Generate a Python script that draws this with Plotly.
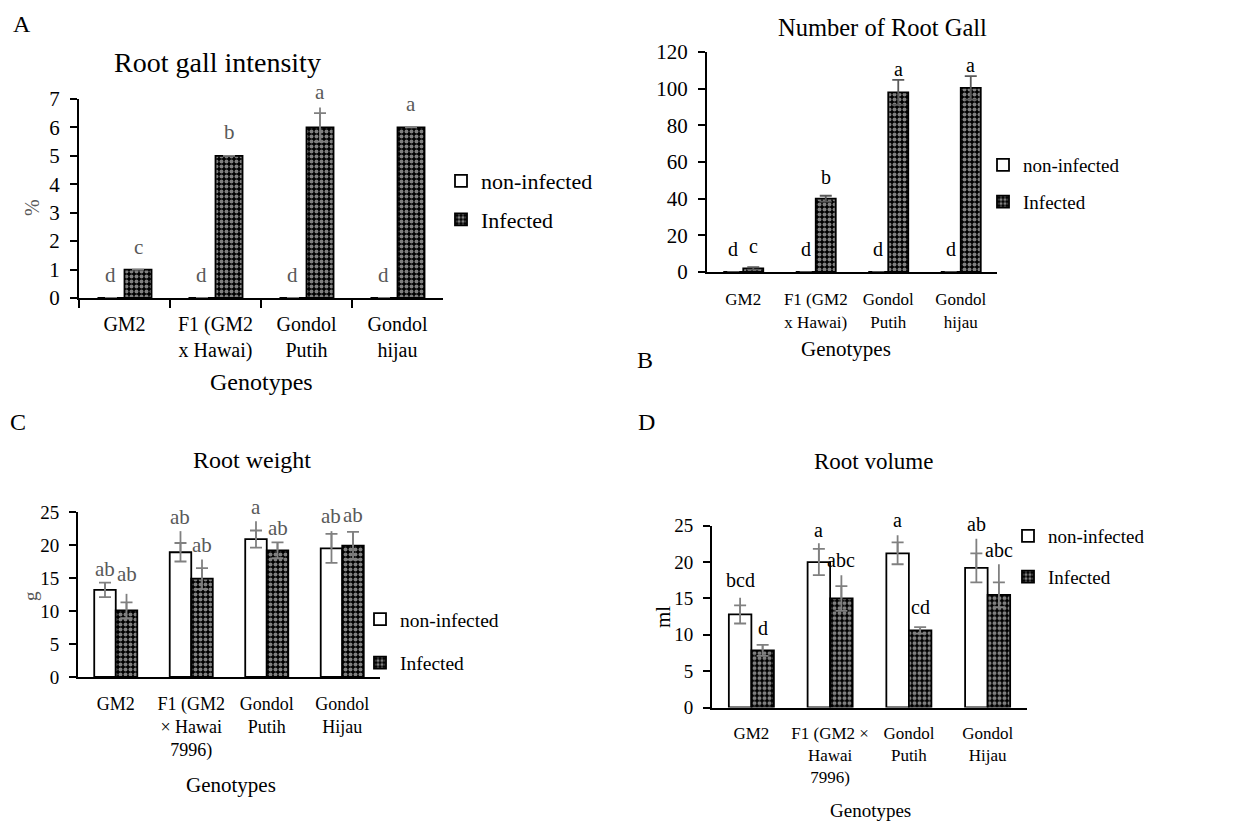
import plotly.graph_objects as go

W, H = 1255, 822
FONT = "Liberation Serif"
GRAY_TXT = "#595959"
ERR_GRAY = "#808080"

# ---------------- data ----------------
cats_ab = ["GM2", "F1 (GM2<br>x Hawai)", "Gondol<br>Putih", "Gondol<br>hijau"]
cats_c = ["GM2", "F1 (GM2<br>× Hawai<br>7996)", "Gondol<br>Putih", "Gondol<br>Hijau"]
cats_d = ["GM2", "F1 (GM2 ×<br>Hawai<br>7996)", "Gondol<br>Putih", "Gondol<br>Hijau"]

# A: Root gall intensity (%)
a_non = [0, 0, 0, 0]
a_non_err = [0, 0, 0, 0]
a_inf = [1, 5, 6, 6]
a_inf_err = [0, 0, 0.5, 0]
a_inf_ext = [0, 0, 0.7, 0]
a_non_lbl = ["d", "d", "d", "d"]
a_inf_lbl = ["c", "b", "a", "a"]

# B: Number of root gall
b_non = [0, 0, 0, 0]
b_non_err = [0, 0, 0, 0]
b_inf = [2, 40, 98, 100.4]
b_inf_err = [0.7, 1.6, 6.8, 6.4]
b_non_lbl = ["d", "d", "d", "d"]
b_inf_lbl = ["c", "b", "a", "a"]

# C: Root weight (g)
c_non = [13.2, 18.9, 20.9, 19.5]
c_non_err = [1.1, 1.4, 1.3, 2.2]
c_non_ext = [1.1, 3.2, 2.7, 2.6]
c_inf = [10.1, 14.9, 19.2, 19.9]
c_inf_err = [1.2, 1.6, 1.2, 2.1]
c_inf_ext = [2.5, 2.9, 1.2, 2.2]
c_non_lbl = ["ab", "ab", "a", "ab"]
c_inf_lbl = ["ab", "ab", "ab", "ab"]

# D: Root volume (ml)
d_non = [12.8, 20.0, 21.2, 19.2]
d_non_err = [1.25, 1.8, 1.5, 2.0]
d_non_ext = [2.3, 2.6, 2.5, 4.0]
d_inf = [7.85, 15.0, 10.6, 15.5]
d_inf_err = [0.75, 1.7, 0.45, 1.7]
d_inf_ext = [0.75, 3.2, 0.45, 4.2]
d_non_lbl = ["bcd", "a", "a", "ab"]
d_inf_lbl = ["d", "abc", "cd", "abc"]


def px_x(p):
    return p / W


def px_y(p):
    return 1 - p / H


fig = go.Figure()
annotations = []

panels = [
    dict(key="", cats=cats_ab, non=a_non, non_err=a_non_err, non_ext=None,
         inf=a_inf, inf_err=a_inf_err, inf_ext=a_inf_ext,
         non_lbl=a_non_lbl, inf_lbl=a_inf_lbl,
         non_shift=[23, 23, 23, 23], inf_shift=[23, 24, 16, 23],
         lbl_color=GRAY_TXT, lbl_size=21, err_color=ERR_GRAY,
         w=0.297, xd=(79, 443), yd=(298, 99), rng=[0, 7], dtick=1,
         tick_size=21, cat_size=20, xticks=True, xstand=7, legend="legend"),
    dict(key="2", cats=cats_ab, non=b_non, non_err=b_non_err, non_ext=None,
         inf=b_inf, inf_err=b_inf_err, inf_ext=None,
         non_lbl=b_non_lbl, inf_lbl=b_inf_lbl,
         non_shift=[23, 23, 23, 23], inf_shift=[21, 19, 11, 11],
         lbl_color="black", lbl_size=20, err_color="#595959",
         w=0.276, xd=(707, 997), yd=(272, 52), rng=[0, 120], dtick=20,
         tick_size=21, cat_size=17, xticks=False, xstand=11, legend="legend2"),
    dict(key="3", cats=cats_c, non=c_non, non_err=c_non_err, non_ext=c_non_ext,
         inf=c_inf, inf_err=c_inf_err, inf_ext=c_inf_ext,
         non_lbl=c_non_lbl, inf_lbl=c_inf_lbl,
         non_shift=[14, 14, 14, 15], inf_shift=[20, 14.5, 14.5, 16.5],
         lbl_color=GRAY_TXT, lbl_size=21, err_color=ERR_GRAY,
         w=0.285, xd=(78, 380), yd=(677, 512), rng=[0, 25], dtick=5,
         tick_size=19, cat_size=18, xticks=False, xstand=9, legend="legend3"),
    dict(key="4", cats=cats_d, non=d_non, non_err=d_non_err, non_ext=d_non_ext,
         inf=d_inf, inf_err=d_inf_err, inf_ext=d_inf_ext,
         non_lbl=d_non_lbl, inf_lbl=d_inf_lbl,
         non_shift=[17.5, 13, 15, 14.6], inf_shift=[16.7, 15, 19.7, 14.6],
         lbl_color="black", lbl_size=20, err_color=ERR_GRAY,
         w=0.286, xd=(712, 1027), yd=(707.5, 525.7), rng=[0, 25], dtick=5,
         tick_size=19, cat_size=17, xticks=False, xstand=9, legend="legend4"),
]

for p in panels:
    xa = "x" + p["key"]
    ya = "y" + p["key"]
    w = p["w"]
    # non-infected bars
    fig.add_trace(go.Bar(
        x=p["cats"], y=p["non"], name="non-infected", xaxis=xa, yaxis=ya,
        width=w, offset=-w,
        marker=dict(color="white", line=dict(color="black", width=1.8)),
        error_y=dict(type="data", array=p["non_err"], color=p["err_color"],
                     thickness=1.8, width=6),
        legend=p["legend"], legendgroup="non" + p["key"], showlegend=True,
    ))
    # infected bars
    fig.add_trace(go.Bar(
        x=p["cats"], y=p["inf"], name="Infected", xaxis=xa, yaxis=ya,
        width=w, offset=0,
        marker=dict(color="black", line=dict(color="black", width=1.8),
                    pattern=dict(shape=".", fgcolor="white", bgcolor="black",
                                 size=5, solidity=0.5)),
        error_y=dict(type="data", array=p["inf_err"], color=p["err_color"],
                     thickness=1.8, width=6),
        legend=p["legend"], legendgroup="inf" + p["key"], showlegend=True,
    ))
    # extended upper error lines (no caps)
    for vals, ext, off, grp in ((p["non"], p["non_ext"], -w, "non"),
                                (p["inf"], p["inf_ext"], 0, "inf")):
        if ext is None:
            continue
        fig.add_trace(go.Bar(
            x=p["cats"], y=vals, xaxis=xa, yaxis=ya, width=w, offset=off,
            marker=dict(color="rgba(0,0,0,0)", line=dict(width=0)),
            error_y=dict(type="data", symmetric=False, array=ext,
                         arrayminus=[0] * len(ext), color=p["err_color"],
                         thickness=1.8, width=0),
            showlegend=False, legend=p["legend"], legendgroup=grp + p["key"],
            hoverinfo="skip",
        ))
    # significance letters
    for i in range(len(p["cats"])):
        top_non = p["non"][i] + max(p["non_err"][i], (p["non_ext"] or p["non_err"])[i])
        top_inf = p["inf"][i] + max(p["inf_err"][i], (p["inf_ext"] or p["inf_err"])[i])
        annotations.append(dict(
            x=i - w / 2, y=top_non, xref=xa, yref=ya, text=p["non_lbl"][i],
            showarrow=False, yanchor="middle", yshift=p["non_shift"][i],
            font=dict(family=FONT, size=p["lbl_size"], color=p["lbl_color"])))
        annotations.append(dict(
            x=i + w / 2, y=top_inf, xref=xa, yref=ya, text=p["inf_lbl"][i],
            showarrow=False, yanchor="middle", yshift=p["inf_shift"][i],
            font=dict(family=FONT, size=p["lbl_size"], color=p["lbl_color"])))

layout = dict(
    width=W, height=H,
    margin=dict(l=0, r=0, t=0, b=0, pad=0, autoexpand=False),
    plot_bgcolor="white", paper_bgcolor="white",
    barmode="group", showlegend=True,
    font=dict(family=FONT, color="black"),
)

for p in panels:
    k = p["key"]
    xaxis = dict(
        domain=[px_x(p["xd"][0]), px_x(p["xd"][1])], anchor="y" + k,
        type="category", showline=True, linecolor="black", linewidth=2,
        showgrid=False, zeroline=False, fixedrange=True, automargin=False,
        tickfont=dict(family=FONT, size=p["cat_size"], color="black"),
        ticks="outside" if p["xticks"] else "", tickson="boundaries",
        ticklen=8, tickwidth=2, tickcolor="black",
        ticklabelstandoff=p["xstand"],
    )
    yaxis = dict(
        domain=[px_y(p["yd"][0]), px_y(p["yd"][1])], anchor="x" + k,
        range=p["rng"], dtick=p["dtick"], showline=True, linecolor="black",
        linewidth=2, showgrid=False, zeroline=False, ticks="outside",
        ticklen=7, tickwidth=2, tickcolor="black", fixedrange=True,
        automargin=False,
        tickfont=dict(family=FONT, size=p["tick_size"], color="black"),
        ticklabelstandoff=6,
    )
    layout["xaxis" + k] = xaxis
    layout["yaxis" + k] = yaxis

legend_specs = {
    "legend": dict(xpx=441, ypx=160, size=22, gap=7),
    "legend2": dict(xpx=983, ypx=146, size=19, gap=9),
    "legend3": dict(xpx=360, ypx=600, size=19.5, gap=15),
    "legend4": dict(xpx=1008, ypx=517, size=19, gap=13),
}
for name, s in legend_specs.items():
    layout[name] = dict(
        x=px_x(s["xpx"]), y=px_y(s["ypx"]), xanchor="left", yanchor="top",
        xref="paper", yref="paper", bgcolor="rgba(0,0,0,0)",
        font=dict(family=FONT, size=s["size"], color="black"),
        tracegroupgap=s["gap"], traceorder="grouped", itemclick=False,
    )

# titles, panel letters, axis titles
texts = [
    ("A", 22, 24, 24, "black", 0),
    ("B", 645, 360, 24, "black", 0),
    ("C", 18, 422, 24, "black", 0),
    ("D", 646, 422, 24, "black", 0),
    ("Root gall intensity", 217, 62, 28, "black", 0),
    ("Number of Root Gall", 882, 27, 24.5, "black", 0),
    ("Root weight", 252, 460, 24, "black", 0),
    ("Root volume", 873, 461, 23, "black", 0),
    ("Genotypes", 261, 382, 24, "black", 0),
    ("Genotypes", 846, 349, 21, "black", 0),
    ("Genotypes", 231, 785, 21, "black", 0),
    ("Genotypes", 870, 810, 19, "black", 0),
    ("%", 32, 208, 20, GRAY_TXT, -90),
    ("g", 30, 596, 19, GRAY_TXT, -90),
    ("ml", 663, 617, 21, "black", -90),
]
for t, xp, yp, sz, col, ang in texts:
    annotations.append(dict(
        text=t, x=px_x(xp), y=px_y(yp), xref="paper", yref="paper",
        xanchor="center", yanchor="middle", showarrow=False, textangle=ang,
        font=dict(family=FONT, size=sz, color=col)))

layout["annotations"] = annotations
fig.update_layout(**layout)
fig.write_html("out.html")
